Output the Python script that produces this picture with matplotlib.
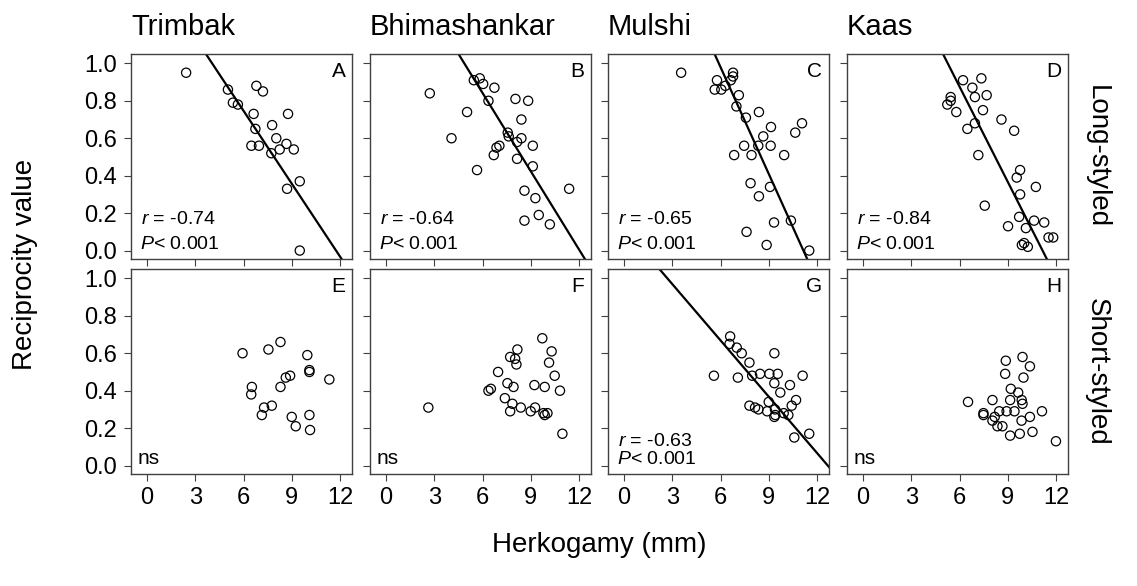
#!/usr/bin/env python3

"""Reciprocity value vs herkogamy, long- and short-styled morphs, four sites."""

import matplotlib
matplotlib.use("Agg")
import matplotlib.pyplot as plt
import numpy as np

SITES = ["Trimbak", "Bhimashankar", "Mulshi", "Kaas"]
ROWS = ["Long-styled", "Short-styled"]
LETTERS = ["A", "B", "C", "D", "E", "F", "G", "H"]

# Long-styled (top row)
A_x = [2.43, 5.03, 6.80, 7.21, 5.34, 5.65, 6.63, 8.77, 7.78, 6.74, 8.04, 6.49, 6.96, 8.67, 8.25, 7.73, 9.13, 9.50, 8.71, 9.50]
A_y = [0.95, 0.86, 0.88, 0.85, 0.79, 0.78, 0.73, 0.73, 0.67, 0.65, 0.60, 0.56, 0.56, 0.57, 0.54, 0.52, 0.54, 0.37, 0.33, 0.00]

B_x = [2.72, 5.46, 5.83, 6.04, 6.74, 6.37, 8.05, 8.84, 5.04, 8.42, 4.07, 7.57, 7.63, 8.15, 8.42, 9.13, 7.05, 6.87, 6.70, 8.15,
       9.13, 5.66, 8.61, 11.39, 9.29, 9.50, 8.61, 10.19]
B_y = [0.84, 0.91, 0.92, 0.89, 0.87, 0.80, 0.81, 0.80, 0.74, 0.70, 0.60, 0.63, 0.61, 0.58, 0.60, 0.56, 0.56, 0.55, 0.51, 0.49,
       0.45, 0.43, 0.32, 0.33, 0.28, 0.19, 0.16, 0.14]

C_x = [3.55, 5.78, 5.64, 6.05, 6.30, 6.78, 6.78, 6.64, 7.14, 6.99, 7.58, 8.39, 9.14, 8.66, 7.47, 8.35, 9.12, 6.85, 7.93, 9.96,
       10.65, 11.07, 7.87, 9.08, 8.39, 9.33, 10.38, 7.62, 8.87, 11.52]
C_y = [0.95, 0.91, 0.86, 0.86, 0.88, 0.95, 0.93, 0.91, 0.83, 0.77, 0.71, 0.74, 0.66, 0.61, 0.56, 0.56, 0.56, 0.51, 0.51, 0.51,
       0.63, 0.68, 0.36, 0.34, 0.29, 0.15, 0.16, 0.10, 0.03, 0.00]

D_x = [6.22, 7.36, 6.80, 6.96, 7.69, 5.45, 5.45, 5.24, 5.80, 7.46, 8.61, 6.96, 6.49, 9.40, 7.17, 9.77, 9.56, 10.75, 9.77, 7.57,
       9.71, 9.02, 10.13, 10.64, 11.27, 11.54, 11.83, 9.88, 10.02, 10.25]
D_y = [0.91, 0.92, 0.87, 0.82, 0.83, 0.82, 0.80, 0.78, 0.74, 0.75, 0.70, 0.68, 0.65, 0.64, 0.51, 0.43, 0.39, 0.34, 0.30, 0.24,
       0.18, 0.13, 0.12, 0.16, 0.15, 0.07, 0.07, 0.03, 0.04, 0.02]

# Short-styled (bottom row)
E_x = [5.94, 7.55, 8.30, 9.97, 10.10, 10.10, 11.34, 8.90, 8.63, 8.30, 6.52, 6.48, 7.28, 7.76, 7.14, 9.00, 9.25, 10.10, 10.14]
E_y = [0.60, 0.62, 0.66, 0.59, 0.51, 0.50, 0.46, 0.48, 0.47, 0.42, 0.42, 0.38, 0.31, 0.32, 0.27, 0.26, 0.21, 0.27, 0.19]

F_x = [2.63, 9.72, 8.17, 10.30, 7.72, 8.03, 8.11, 10.14, 6.97, 10.49, 7.55, 7.93, 9.23, 9.87, 10.82, 6.37, 6.52, 7.39, 7.86,
       8.38, 9.27, 9.00, 7.72, 9.79, 10.04, 9.87, 10.97]
F_y = [0.31, 0.68, 0.62, 0.61, 0.58, 0.57, 0.54, 0.55, 0.50, 0.48, 0.44, 0.42, 0.43, 0.42, 0.40, 0.40, 0.41, 0.36, 0.33,
       0.31, 0.31, 0.29, 0.29, 0.28, 0.28, 0.27, 0.17]

G_x = [5.59, 6.60, 6.56, 7.01, 7.32, 9.35, 7.80, 7.08, 7.97, 8.46, 9.04, 9.56, 9.35, 11.11, 10.32, 9.72, 7.80, 8.15, 8.36,
       9.00, 8.90, 9.39, 9.35, 9.41, 9.93, 10.22, 10.43, 10.70, 10.59, 11.52]
G_y = [0.48, 0.69, 0.65, 0.63, 0.60, 0.60, 0.55, 0.47, 0.48, 0.49, 0.49, 0.49, 0.44, 0.48, 0.43, 0.39, 0.32, 0.31, 0.30,
       0.34, 0.29, 0.30, 0.26, 0.27, 0.28, 0.27, 0.32, 0.35, 0.15, 0.17]

H_x = [8.88, 9.92, 10.38, 8.84, 9.98, 9.19, 9.65, 9.15, 9.87, 9.92, 6.53, 8.05, 11.13, 9.42, 8.93, 8.47, 7.49, 7.49, 8.19,
       8.05, 10.38, 9.86, 8.67, 8.36, 9.15, 9.75, 10.54, 12.00]
H_y = [0.56, 0.58, 0.53, 0.49, 0.47, 0.41, 0.39, 0.35, 0.35, 0.33, 0.34, 0.35, 0.29, 0.29, 0.29, 0.29, 0.28, 0.27, 0.26,
       0.24, 0.26, 0.24, 0.21, 0.21, 0.16, 0.17, 0.18, 0.13]

# fitted lines (intercept, slope); None = not significant
LINES = [(1.525, -0.1297), (1.678, -0.1393), (2.12, -0.190), (1.893, -0.1695),
         None, None, (1.270, -0.1002), None]
R_TEXT = ["-0.74", "-0.64", "-0.65", "-0.84", None, None, "-0.63", None]

X_TICKS = [0, 3, 6, 9, 12]
Y_TICKS = [0.0, 0.2, 0.4, 0.6, 0.8, 1.0]


def main():
    plt.rcParams.update({
        "font.family": ["Liberation Sans", "DejaVu Sans"],
        "mathtext.fontset": "custom",
        "mathtext.rm": "Liberation Sans",
        "mathtext.it": "Liberation Sans:italic",
        "axes.edgecolor": "#404040",
        "axes.linewidth": 1.0,
        "xtick.color": "#404040",
        "ytick.color": "#404040",
        "xtick.labelcolor": "black",
        "ytick.labelcolor": "black",
        "xtick.major.size": 5,
        "ytick.major.size": 5,
        "xtick.major.pad": 4,
        "ytick.major.pad": 5,
    })

    W, H = 1137, 586
    fig = plt.figure(figsize=(W / 100, H / 100), dpi=100)

    data = [(A_x, A_y), (B_x, B_y), (C_x, C_y), (D_x, D_y),
            (E_x, E_y), (F_x, F_y), (G_x, G_y), (H_x, H_y)]

    lefts = [131, 370, 608, 847]
    tops = [54, 269]
    aw, ah = 221, 205

    for i, (xs, ys) in enumerate(data):
        row, col = divmod(i, 4)
        ax = fig.add_axes([lefts[col] / W, 1 - (tops[row] + ah) / H, aw / W, ah / H])
        ax.scatter(xs, ys, s=44, facecolors="none", edgecolors="black", linewidths=0.9, zorder=3)

        ax.set_xlim(-1.0, 12.75)
        ax.set_ylim(-0.045, 1.05)
        ax.set_xticks(X_TICKS)
        ax.set_yticks(Y_TICKS)
        if row == 1:
            ax.set_xticklabels([str(t) for t in X_TICKS], fontsize=17)
        else:
            ax.set_xticklabels([])
        if col == 0:
            ax.set_yticklabels([f"{t:.1f}" for t in Y_TICKS], fontsize=17)
        else:
            ax.set_yticklabels([])

        if LINES[i] is not None:
            b0, b1 = LINES[i]
            xx = np.array([-1.0, 13.0])
            ax.plot(xx, b0 + b1 * xx, color="black", lw=1.6, zorder=2)
            r_y = 0.135 if i == 6 else 0.17
            ax.text(0.045, r_y, r"$r$ = " + R_TEXT[i], transform=ax.transAxes,
                    fontsize=14, ha="left", va="baseline")
            ax.text(0.04, 0.05, r"$P$< 0.001", transform=ax.transAxes,
                    fontsize=14, ha="left", va="baseline")
        else:
            ax.text(0.03, 0.05, "ns", transform=ax.transAxes,
                    fontsize=15, ha="left", va="baseline")

        ax.text(0.97, 0.96, LETTERS[i], transform=ax.transAxes,
                fontsize=15, ha="right", va="top")

        if row == 0:
            ax.set_title(SITES[col], loc="left", fontsize=21, pad=14)
        if col == 3:
            ax.text(1.13, 0.5, ROWS[row], transform=ax.transAxes, rotation=270,
                    fontsize=20, ha="center", va="center")

    fig.text((131 + 1068) / 2 / W, 1 - 545 / H, "Herkogamy (mm)", fontsize=20,
             ha="center", va="center")
    fig.text(25 / W, 1 - 264 / H, "Reciprocity value", fontsize=20,
             rotation=90, ha="center", va="center")

    fig.savefig("out.png", dpi=100)
    plt.close(fig)


if __name__ == "__main__":
    main()
